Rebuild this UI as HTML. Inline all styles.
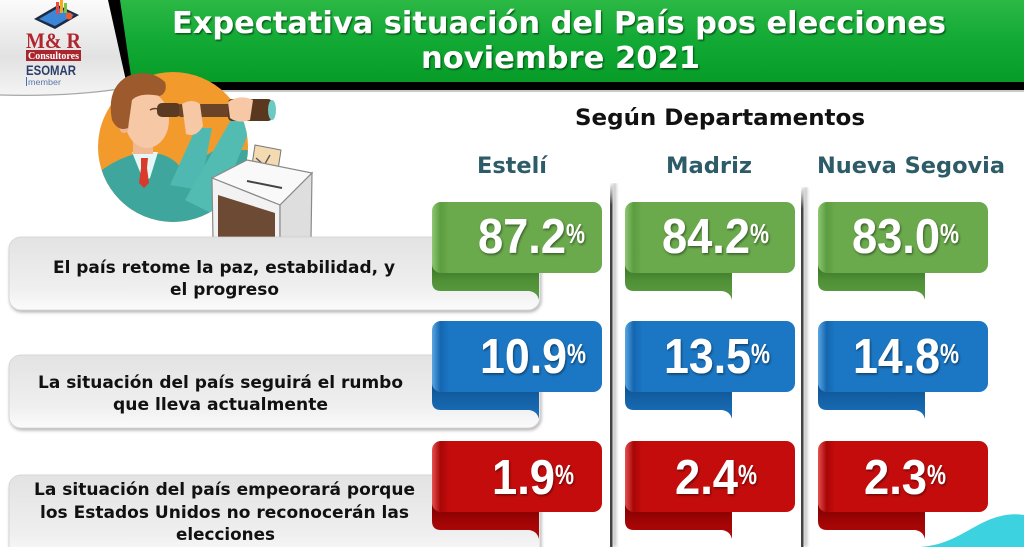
<!DOCTYPE html>
<html><head><meta charset="utf-8"><style>
html,body{margin:0;padding:0;background:#fff;width:1024px;height:547px;overflow:hidden}
svg{display:block}
.t{font-family:"DejaVu Sans","Liberation Sans",sans-serif;font-weight:bold}
.n{font-family:"Liberation Sans",sans-serif;font-weight:bold;fill:#fff}
</style></head><body>
<svg width="1024" height="547" viewBox="0 0 1024 547" xmlns="http://www.w3.org/2000/svg">
<defs>
<linearGradient id="logobg" x1="0" y1="0" x2="0" y2="1"><stop offset="0" stop-color="#fbfbfb"/><stop offset=".6" stop-color="#e2e2e2"/><stop offset="1" stop-color="#f4f4f4"/></linearGradient>
<linearGradient id="ban" x1="0" y1="0" x2="0" y2="1"><stop offset="0" stop-color="#2cb845"/><stop offset=".5" stop-color="#12a935"/><stop offset="1" stop-color="#069c27"/></linearGradient>
<linearGradient id="box" x1="0" y1="0" x2="0" y2="1"><stop offset="0" stop-color="#e3e3e3"/><stop offset=".7" stop-color="#efefef"/><stop offset="1" stop-color="#fbfbfb"/></linearGradient>
<linearGradient id="div" x1="0" y1="0" x2="0" y2="1"><stop offset="0" stop-color="#555" stop-opacity="0"/><stop offset=".06" stop-color="#444"/><stop offset="1" stop-color="#444"/></linearGradient>
<linearGradient id="gM" x1="0" y1="0" x2="1" y2="0"><stop offset="0" stop-color="#8fc672"/><stop offset=".05" stop-color="#5c9d40"/><stop offset=".1" stop-color="#6aa94c"/><stop offset="1" stop-color="#6aa94c"/></linearGradient>
<linearGradient id="gF" x1="0" y1="0" x2="0" y2="1"><stop offset="0" stop-color="#2f6a1f"/><stop offset=".5" stop-color="#4f8f36"/><stop offset="1" stop-color="#5d9d42"/></linearGradient>
<linearGradient id="bM" x1="0" y1="0" x2="1" y2="0"><stop offset="0" stop-color="#5aa6e4"/><stop offset=".05" stop-color="#1566b0"/><stop offset=".1" stop-color="#1b76c3"/><stop offset="1" stop-color="#1b76c3"/></linearGradient>
<linearGradient id="bF" x1="0" y1="0" x2="0" y2="1"><stop offset="0" stop-color="#0b4a85"/><stop offset=".5" stop-color="#1461a6"/><stop offset="1" stop-color="#1a70bb"/></linearGradient>
<linearGradient id="rM" x1="0" y1="0" x2="1" y2="0"><stop offset="0" stop-color="#e65050"/><stop offset=".05" stop-color="#a80606"/><stop offset=".1" stop-color="#c40c0c"/><stop offset="1" stop-color="#c40c0c"/></linearGradient>
<linearGradient id="rF" x1="0" y1="0" x2="0" y2="1"><stop offset="0" stop-color="#6e0000"/><stop offset=".5" stop-color="#9c0404"/><stop offset="1" stop-color="#b50909"/></linearGradient>
<filter id="sh" x="-10%" y="-10%" width="130%" height="140%"><feDropShadow dx="1" dy="2" stdDeviation="1.6" flood-color="#000" flood-opacity=".3"/></filter>
<filter id="tsh" x="-5%" y="-20%" width="110%" height="150%"><feDropShadow dx="1.2" dy="1.5" stdDeviation=".8" flood-color="#03450f" flood-opacity=".8"/></filter>
<filter id="nsh" x="-10%" y="-20%" width="120%" height="150%"><feDropShadow dx="1" dy="1.5" stdDeviation="1" flood-color="#000" flood-opacity=".45"/></filter>
<filter id="dsh" x="-200%" y="0" width="500%" height="100%"><feGaussianBlur stdDeviation="1.5"/></filter>
<clipPath id="circ"><circle cx="173" cy="147" r="75"/></clipPath>
</defs>

<rect width="1024" height="547" fill="#fff"/>

<!-- header -->
<path d="M0,0 L112,0 L126,88 Q70,97 0,95 Z" fill="url(#logobg)"/>
<path d="M0,95 Q70,97 126,88" fill="none" stroke="#a8a8a8" stroke-width="1.2"/>
<polygon points="108,0 1024,0 1024,90 128,90" fill="#000"/>
<path d="M120,0 L1024,0 L1024,82 L138,82 Q132,82 131,76 Z" fill="url(#ban)"/>
<line x1="128" y1="91" x2="1024" y2="91" stroke="#b9b9b9" stroke-width="1.5"/>

<!-- logo -->
<polygon points="34,19 58,5 79,15 55,29" fill="#1d2a44"/>
<polygon points="39,19 58,8 74,15 55,26" fill="#3b86d6"/>
<rect x="56" y="2" width="3" height="12" fill="#e94b3c"/>
<rect x="60" y="0" width="3" height="13" fill="#f4a81d"/>
<rect x="64" y="3" width="3" height="10" fill="#7cc24a"/>
<circle cx="69" cy="16" r="3.5" fill="#e8603a"/>
<text x="26" y="48" font-family="Liberation Serif,serif" font-weight="bold" font-size="22" fill="#b0262f" textLength="55" lengthAdjust="spacingAndGlyphs">M&amp; R</text>
<rect x="26" y="50" width="55" height="11" fill="#a8252d"/>
<text x="28" y="59" font-family="Liberation Serif,serif" font-weight="bold" font-size="11" fill="#fff" textLength="51" lengthAdjust="spacingAndGlyphs">Consultores</text>
<text x="26" y="75" font-family="Liberation Sans,sans-serif" font-weight="bold" font-size="14" fill="#2b3e6a" textLength="50" lengthAdjust="spacingAndGlyphs">ESOMAR</text>
<line x1="26.5" y1="77" x2="26.5" y2="86" stroke="#4a6ea8" stroke-width="1"/>
<text x="28" y="85" font-family="Liberation Sans,sans-serif" font-size="8.5" fill="#5b79ab" textLength="33" lengthAdjust="spacingAndGlyphs">member</text>

<!-- title -->
<g filter="url(#tsh)">
<text class="t" x="172" y="33" font-size="30" fill="#fff" textLength="774" lengthAdjust="spacingAndGlyphs">Expectativa situación del País pos elecciones</text>
<text class="t" x="421" y="68" font-size="30" fill="#fff" textLength="279" lengthAdjust="spacingAndGlyphs">noviembre 2021</text>
</g>

<!-- illustration -->
<circle cx="173" cy="147" r="75" fill="#f29a2c"/>
<g clip-path="url(#circ)">
  <path d="M92,178 Q112,160 135,154 L160,154 Q175,158 182,170 L215,150 L250,150 L250,240 L92,240 Z" fill="#3ea69d"/>
  <path d="M170,185 L196,128 L212,128 L200,190 Z" fill="#4fb9b1"/>
  <path d="M185,200 L232,118 L252,124 L215,215 Z" fill="#52bcb3"/>
  <path d="M132,152 L158,152 L150,178 L144,182 Z" fill="#e6f6f5"/>
  <path d="M141,158 L148,158 L147,168 L149,183 L144,188 L139,183 L141,168 Z" fill="#d83a2c"/>
</g>
<rect x="133" y="138" width="20" height="16" fill="#f0b993"/>
<ellipse cx="147" cy="120" rx="22" ry="28" fill="#f6c8a6"/>
<ellipse cx="124" cy="126" rx="5" ry="7" fill="#eeb592"/>
<path d="M112,120 Q106,88 128,76 Q150,68 165,82 Q168,92 160,96 Q140,92 132,100 L128,128 Q118,132 112,120 Z" fill="#9c5a2d"/>
<path d="M150,110 Q155,107 160,110" stroke="#6a4030" stroke-width="1.5" fill="none"/>
<!-- telescope -->
<rect x="157" y="103" width="24" height="14" rx="5" fill="#5a3a23"/>
<rect x="179" y="104" width="52" height="13" rx="2" fill="#6b4428"/>
<rect x="228" y="99" width="44" height="22" rx="4" fill="#5a3820"/>
<ellipse cx="272" cy="110" rx="4" ry="10" fill="#6cc9c4"/>
<path d="M182,104 Q192,98 200,104 L203,126 Q196,138 186,134 Z" fill="#f6c8a6"/>
<path d="M228,102 Q240,94 253,100 L250,120 Q238,124 230,118 Z" fill="#f6c8a6"/>
<!-- ballot box -->
<polygon points="255,145 281,150 276,183 250,178" fill="#f3dab1" stroke="#777" stroke-width="1"/>
<path d="M256,158 L272,172 M270,155 L258,176" stroke="#555" stroke-width="1.3"/>
<polygon points="212,178 247,160 312,173 280,205" fill="#f9f9f9" stroke="#8a8a8a" stroke-width="1.2"/>
<line x1="247" y1="181" x2="282" y2="188" stroke="#444" stroke-width="2"/>
<polygon points="212,178 280,205 280,240 213,240" fill="#f2f2f2" stroke="#8a8a8a" stroke-width="1.2"/>
<polygon points="280,205 312,173 311,240 280,240" fill="#dedede" stroke="#8a8a8a" stroke-width="1.2"/>
<polygon points="218,195 275,213 275,240 218,240" fill="#6c4a33"/>

<!-- headings -->
<text class="t" x="575" y="125" font-size="22" fill="#111" textLength="290" lengthAdjust="spacingAndGlyphs">Según Departamentos</text>
<text class="t" x="477" y="173" font-size="22" fill="#2d5c68" textLength="70" lengthAdjust="spacingAndGlyphs">Estelí</text>
<text class="t" x="666" y="173" font-size="22" fill="#2d5c68" textLength="86" lengthAdjust="spacingAndGlyphs">Madriz</text>
<text class="t" x="817" y="173" font-size="22" fill="#2d5c68" textLength="188" lengthAdjust="spacingAndGlyphs">Nueva Segovia</text>

<!-- dividers -->
<rect x="613" y="183" width="3" height="364" fill="#999" filter="url(#dsh)" opacity=".7"/>
<rect x="610" y="183" width="2.5" height="364" fill="url(#div)"/>
<rect x="804" y="187" width="3" height="360" fill="#999" filter="url(#dsh)" opacity=".7"/>
<rect x="801" y="187" width="2.5" height="360" fill="url(#div)"/>

<!-- label boxes -->
<rect x="9" y="237" width="531" height="73" rx="12" fill="url(#box)" stroke="#d2d2d2" stroke-width=".8" filter="url(#sh)"/>
<rect x="9" y="355" width="531" height="73" rx="12" fill="url(#box)" stroke="#d2d2d2" stroke-width=".8" filter="url(#sh)"/>
<rect x="9" y="475" width="531" height="84" rx="12" fill="url(#box)" stroke="#d2d2d2" stroke-width=".8" filter="url(#sh)"/>

<g class="t" font-size="17" fill="#111" text-anchor="middle">
<text x="224" y="273" textLength="342" lengthAdjust="spacingAndGlyphs">El país retome la paz, estabilidad, y</text>
<text x="224.5" y="295" textLength="109" lengthAdjust="spacingAndGlyphs">el progreso</text>
<text x="220.5" y="388" textLength="365" lengthAdjust="spacingAndGlyphs">La situación del país seguirá el rumbo</text>
<text x="220.5" y="410" textLength="215" lengthAdjust="spacingAndGlyphs">que lleva actualmente</text>
<text x="224.5" y="495" textLength="381" lengthAdjust="spacingAndGlyphs">La situación del país empeorará porque</text>
<text x="224.5" y="518" textLength="369" lengthAdjust="spacingAndGlyphs">los Estados Unidos no reconocerán las</text>
<text x="225.5" y="540" textLength="99" lengthAdjust="spacingAndGlyphs">elecciones</text>
</g>

<!-- ribbons: green -->
<g transform="translate(432,202)"><path d="M0,58 L107,58 L107,98 Q105,90 97,89 L9,89 Q0,89 0,80 Z" fill="url(#gF)"/><rect width="170" height="71" rx="9" fill="url(#gM)"/></g>
<g transform="translate(625,202)"><path d="M0,58 L107,58 L107,98 Q105,90 97,89 L9,89 Q0,89 0,80 Z" fill="url(#gF)"/><rect width="170" height="71" rx="9" fill="url(#gM)"/></g>
<g transform="translate(818,202)"><path d="M0,58 L107,58 L107,98 Q105,90 97,89 L9,89 Q0,89 0,80 Z" fill="url(#gF)"/><rect width="170" height="71" rx="9" fill="url(#gM)"/></g>
<!-- blue -->
<g transform="translate(432,321)"><path d="M0,58 L107,58 L107,98 Q105,90 97,89 L9,89 Q0,89 0,80 Z" fill="url(#bF)"/><rect width="170" height="71" rx="9" fill="url(#bM)"/></g>
<g transform="translate(625,321)"><path d="M0,58 L107,58 L107,98 Q105,90 97,89 L9,89 Q0,89 0,80 Z" fill="url(#bF)"/><rect width="170" height="71" rx="9" fill="url(#bM)"/></g>
<g transform="translate(818,321)"><path d="M0,58 L107,58 L107,98 Q105,90 97,89 L9,89 Q0,89 0,80 Z" fill="url(#bF)"/><rect width="170" height="71" rx="9" fill="url(#bM)"/></g>
<!-- red -->
<g transform="translate(432,441)"><path d="M0,58 L107,58 L107,98 Q105,90 97,89 L9,89 Q0,89 0,80 Z" fill="url(#rF)"/><rect width="170" height="71" rx="9" fill="url(#rM)"/></g>
<g transform="translate(625,441)"><path d="M0,58 L107,58 L107,98 Q105,90 97,89 L9,89 Q0,89 0,80 Z" fill="url(#rF)"/><rect width="170" height="71" rx="9" fill="url(#rM)"/></g>
<g transform="translate(818,441)"><path d="M0,58 L107,58 L107,98 Q105,90 97,89 L9,89 Q0,89 0,80 Z" fill="url(#rF)"/><rect width="170" height="71" rx="9" fill="url(#rM)"/></g>

<!-- numbers -->
<g class="n" filter="url(#nsh)">
<text x="478" y="253" font-size="49" textLength="88" lengthAdjust="spacingAndGlyphs">87.2</text>
<text x="566" y="243" font-size="28" textLength="19" lengthAdjust="spacingAndGlyphs">%</text>
<text x="662" y="253" font-size="49" textLength="88" lengthAdjust="spacingAndGlyphs">84.2</text>
<text x="750" y="243" font-size="28" textLength="19" lengthAdjust="spacingAndGlyphs">%</text>
<text x="852" y="253" font-size="49" textLength="88" lengthAdjust="spacingAndGlyphs">83.0</text>
<text x="940" y="243" font-size="28" textLength="19" lengthAdjust="spacingAndGlyphs">%</text>

<text x="480" y="373" font-size="49" textLength="87" lengthAdjust="spacingAndGlyphs">10.9</text>
<text x="567" y="363" font-size="28" textLength="19" lengthAdjust="spacingAndGlyphs">%</text>
<text x="664" y="373" font-size="49" textLength="87" lengthAdjust="spacingAndGlyphs">13.5</text>
<text x="751" y="363" font-size="28" textLength="19" lengthAdjust="spacingAndGlyphs">%</text>
<text x="853" y="373" font-size="49" textLength="87" lengthAdjust="spacingAndGlyphs">14.8</text>
<text x="940" y="363" font-size="28" textLength="19" lengthAdjust="spacingAndGlyphs">%</text>

<text x="492" y="494" font-size="49" textLength="63" lengthAdjust="spacingAndGlyphs">1.9</text>
<text x="555" y="484" font-size="28" textLength="19" lengthAdjust="spacingAndGlyphs">%</text>
<text x="675" y="494" font-size="49" textLength="63" lengthAdjust="spacingAndGlyphs">2.4</text>
<text x="738" y="484" font-size="28" textLength="19" lengthAdjust="spacingAndGlyphs">%</text>
<text x="864" y="494" font-size="49" textLength="63" lengthAdjust="spacingAndGlyphs">2.3</text>
<text x="927" y="484" font-size="28" textLength="19" lengthAdjust="spacingAndGlyphs">%</text>
</g>

<!-- cyan blob -->
<path d="M920,547 C948,545 962,533 982,523 C998,515 1012,513 1024,515 L1024,547 Z" fill="#3dd2df"/>
</svg>
</body></html>
